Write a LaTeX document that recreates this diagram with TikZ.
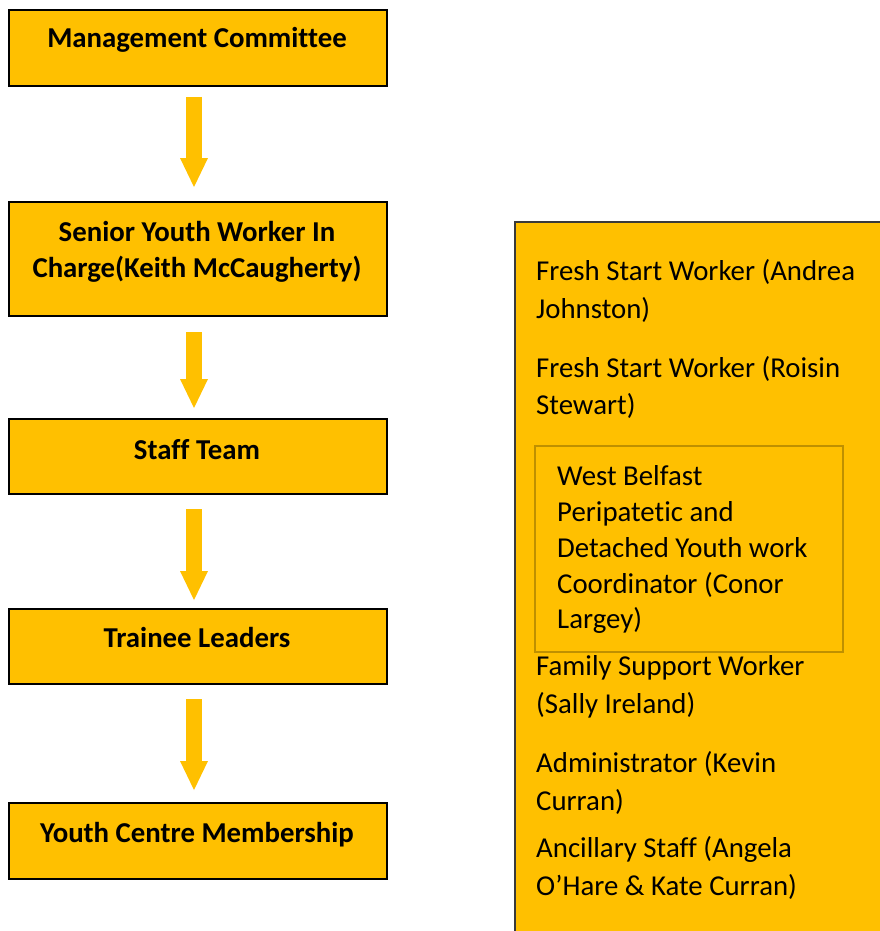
\documentclass[tikz,border=0pt]{standalone}
\usepackage{fontspec}
\setmainfont{Carlito}[RawFeature={-liga;-clig;-calt;-dlig}]
\usetikzlibrary{arrows.meta}
\definecolor{gold}{HTML}{FFC000}
\definecolor{goldedge}{HTML}{BF9000}
\definecolor{paneledge}{HTML}{3A3A3A}
\begin{document}
\begin{tikzpicture}[x=1pt,y=-1pt,
  box/.style={draw=black, line width=2pt, fill=gold, minimum width=378pt, inner sep=0pt, outer sep=0pt, anchor=north west},
  boldtxt/.style={font=\fontsize{28.8}{36}\selectfont\bfseries, inner sep=0pt, anchor=base},
  txt/.style={font=\fontsize{28.8}{38}\selectfont, inner sep=0pt, anchor=base west},
  blockarrow/.style={draw=gold, line width=16pt, line cap=butt,
     -{Triangle[width=28pt,length=29pt,line width=0pt,round]}}
]
\useasboundingbox (0,0) rectangle (880,931);
\begin{scope}
\clip (0,0) rectangle (880,931);
% right panel
\node[draw=paneledge, fill=gold, line width=1.5pt, minimum width=380pt, minimum height=730pt, inner sep=0pt, outer sep=0pt, anchor=north west] (panel) at (515,222) {};
\end{scope}
\node[draw=goldedge, line width=2pt, minimum width=308pt, minimum height=206pt, inner sep=0pt, outer sep=0pt, anchor=north west] (wb) at (535,446) {};

% left boxes
\node[box, minimum height=76pt] (mc) at (9,10) {};
\node[box, minimum height=114pt] (syw) at (9,202) {};
\node[box, minimum height=75pt] (st) at (9,419) {};
\node[box, minimum height=75pt] (tl) at (9,609) {};
\node[box, minimum height=76pt] (ycm) at (9,803) {};

\node[boldtxt] (mct) at (197,48) {Management Committee};
\node[boldtxt] (sywt1) at (197,241) {Senior Youth Worker In};
\node[boldtxt] (sywt2) at (197,277) {Charge(Keith McCaugherty)};
\node[boldtxt] (stt) at (197,459) {Staff Team};
\node[boldtxt] (tlt) at (197,647) {Trainee Leaders};
\node[boldtxt] (ycmt) at (197,842) {Youth Centre Membership};

% arrows
\coordinate (a1s) at (194,97);  \coordinate (a1e) at (194,187);
\coordinate (a2s) at (194,332); \coordinate (a2e) at (194,408);
\coordinate (a3s) at (194,509); \coordinate (a3e) at (194,600);
\coordinate (a4s) at (194,699); \coordinate (a4e) at (194,790);
\draw[blockarrow] (a1s) -- (a1e);
\draw[blockarrow] (a2s) -- (a2e);
\draw[blockarrow] (a3s) -- (a3e);
\draw[blockarrow] (a4s) -- (a4e);

% right panel text
\node[txt] (r1) at (536,280) {Fresh Start Worker (Andrea};
\node[txt] (r2) at (536,318) {Johnston)};
\node[txt] (r3) at (536,377) {Fresh Start Worker (Roisin};
\node[txt] (r4) at (536,414) {Stewart)};
\node[txt] (w1) at (557,485) {West Belfast};
\node[txt] (w2) at (557,521) {Peripatetic and};
\node[txt] (w3) at (557,557) {Detached Youth work};
\node[txt] (w4) at (557,593) {Coordinator (Conor};
\node[txt] (w5) at (557,628) {Largey)};
\node[txt] (r5) at (536,675) {Family Support Worker};
\node[txt] (r6) at (536,713) {(Sally Ireland)};
\node[txt] (r7) at (536,772) {Administrator (Kevin};
\node[txt] (r8) at (536,810) {Curran)};
\node[txt] (r9) at (536,857) {Ancillary Staff (Angela};
\node[txt] (r10) at (536,895) {O’Hare \& Kate Curran)};
\end{tikzpicture}
\end{document}
